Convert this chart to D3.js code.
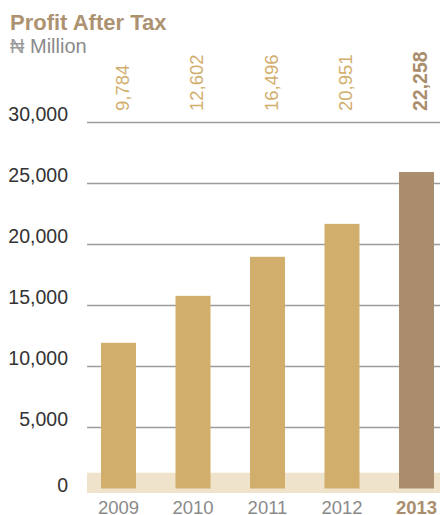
<!DOCTYPE html>
<html>
<head>
<meta charset="utf-8">
<script src="https://cdn.jsdelivr.net/npm/d3@7"></script>
<style>
    body { margin: 0; background: #fff; }
    svg { display: block; font-family: "Liberation Sans", Arial, sans-serif; }
</style>
</head>
<body>
<svg id="chart" width="440" height="515"></svg>
<script>
var years = ['2009', '2010', '2011', '2012', '2013'];
// bar heights as drawn against the axis
var barValues = [11900, 15750, 18950, 21650, 25900];
// figures printed above the bars
var labelValues = ['9,784', '12,602', '16,496', '20,951', '22,258'];
var tickValues = [0, 5000, 10000, 15000, 20000, 25000, 30000];
var bandValue = 1250;

var svg = d3.select('#chart');

var y = d3.scaleLinear().domain([0, 30000]).range([488, 122]);
var x = d3.scalePoint().domain(years).range([118.5, 416.5]);
var barWidth = 35;

var gold = '#d2ae6d',
    brown = '#a98d6c',
    last = years[years.length - 1];

// title
svg.append('text')
    .attr('x', 10)
    .attr('y', 30)
    .attr('font-size', '22px')
    .attr('font-weight', 'bold')
    .attr('fill', '#ad9271')
    .text('Profit After Tax');

var sub = svg.append('text')
    .attr('x', 10)
    .attr('y', 53)
    .attr('font-size', '20px')
    .attr('fill', '#8a8a8a');
sub.append('tspan').attr('fill', '#9a9a9a').text('\u20A6');
sub.append('tspan').text(' Million');

// gridlines
svg.append('g')
    .selectAll('line')
    .data(tickValues)
    .enter().append('line')
    .attr('x1', 87)
    .attr('x2', 440)
    .attr('y1', function(d) { return y(d) + 0.5; })
    .attr('y2', function(d) { return y(d) + 0.5; })
    .style('stroke', '#9c9c9c')
    .style('stroke-width', '1.3px');

// tick labels
svg.append('g')
    .selectAll('text')
    .data(tickValues)
    .enter().append('text')
    .attr('x', 68)
    .attr('y', function(d) { return d === 0 ? y(d) + 4 : y(d) - 1.5; })
    .attr('text-anchor', 'end')
    .attr('font-size', '19.5px')
    .attr('fill', '#333333')
    .text(d3.format(','));

// beige base band
svg.append('rect')
    .attr('x', 87)
    .attr('width', 353)
    .attr('y', y(bandValue))
    .attr('height', y(0) - y(bandValue) + 5)
    .style('fill', '#efe3cb');

// bars
svg.append('g')
    .selectAll('rect')
    .data(barValues)
    .enter().append('rect')
    .attr('x', function(d, i) { return x(years[i]) - barWidth / 2; })
    .attr('width', barWidth)
    .attr('y', function(d) { return y(d); })
    .attr('height', function(d) { return y(0) - y(d) + 0.5; })
    .style('fill', function(d, i) { return years[i] === last ? brown : gold; });

// rotated value labels
svg.append('g')
    .selectAll('text')
    .data(labelValues)
    .enter().append('text')
    .attr('transform', function(d, i) {
        return 'translate(' + (x(years[i]) + 10) + ',111) rotate(-90)';
    })
    .attr('font-size', function(d, i) { return years[i] === last ? '19.5px' : '18.5px'; })
    .attr('font-weight', function(d, i) { return years[i] === last ? 'bold' : 'normal'; })
    .attr('fill', function(d, i) { return years[i] === last ? brown : gold; })
    .text(function(d) { return d; });

// year labels
svg.append('g')
    .selectAll('text')
    .data(years)
    .enter().append('text')
    .attr('x', function(d) { return x(d); })
    .attr('y', 514)
    .attr('text-anchor', 'middle')
    .attr('font-size', '18.5px')
    .attr('font-weight', function(d) { return d === last ? 'bold' : 'normal'; })
    .attr('fill', function(d) { return d === last ? brown : '#8a8a8a'; })
    .text(function(d) { return d; });
</script>
</body>
</html>
